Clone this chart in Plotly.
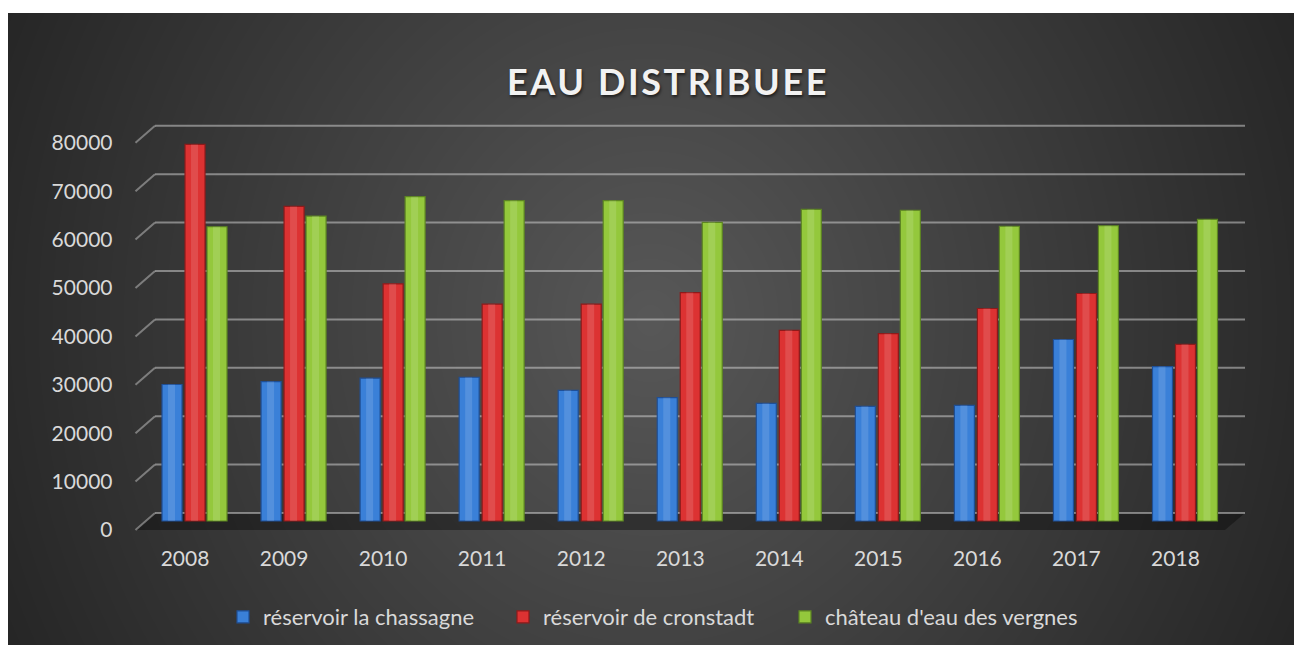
import base64, struct, zlib
import numpy as np
import plotly.graph_objects as go

# ---------------- data ----------------
years = ["2008", "2009", "2010", "2011", "2012", "2013", "2014", "2015", "2016", "2017", "2018"]
chassagne = [28200, 28800, 29500, 29700, 27000, 25500, 24300, 23700, 23900, 37500, 31900]
cronstadt = [77800, 65000, 49000, 44800, 44800, 47200, 39400, 38700, 43900, 47000, 36500]
vergnes = [60800, 63000, 67000, 66200, 66200, 61700, 64400, 64200, 60900, 61000, 62300]
series_names = ["réservoir la chassagne", "réservoir de cronstadt", "château d'eau des vergnes"]
series_colors = ["#3a80d8", "#dc3232", "#94c83c"]
series_edges = ["#1f4f96", "#8e1a1a", "#5c8422"]
y_ticks = [0, 10000, 20000, 30000, 40000, 50000, 60000, 70000, 80000]

W, H = 1294, 645

# ---------------- background gradient image ----------------
bx0, by0 = 8, 13
bw, bh = W - bx0, H - by0
yy, xx = np.mgrid[0:bh, 0:bw].astype(float)
cx, cy = 650 - bx0, 320 - by0
r = np.sqrt(((xx - cx) / 740.0) ** 2 + ((yy - cy) / 800.0) ** 2)
r = np.clip(r, 0, 1)
val = 88 - r * 52
img = np.repeat(np.clip(val, 0, 255).astype(np.uint8)[:, :, None], 3, axis=2)


def png_uri(arr):
    h, w, _ = arr.shape
    raw = b"".join(b"\x00" + arr[i].tobytes() for i in range(h))

    def chunk(t, d):
        c = struct.pack(">I", len(d)) + t + d
        return c + struct.pack(">I", zlib.crc32(t + d) & 0xFFFFFFFF)

    png = (b"\x89PNG\r\n\x1a\n"
           + chunk(b"IHDR", struct.pack(">IIBBBBB", w, h, 8, 2, 0, 0, 0))
           + chunk(b"IDAT", zlib.compress(raw, 9))
           + chunk(b"IEND", b""))
    return "data:image/png;base64," + base64.b64encode(png).decode()


# ---------------- geometry helpers ----------------
px = lambda p: p / W
py = lambda p: 1 - p / H

n = len(years)
front_left, front_right = 135.5, 1225.0
back_left, back_right = 155, 1245
ppc = (front_right - front_left) / n
dom_top, dom_bot = 110, 540
ppv = 48.4 / 10000.0          # pixels per unit
bar_zero = 521                # pixel of value 0 for bars
grid_zero = 513               # back wall
label_zero = 530              # front axis labels

bar_range = [-(dom_bot - bar_zero) / ppv, (bar_zero - dom_top) / ppv]
grid_shift = (bar_zero - grid_zero) / ppv
label_shift = (label_zero - bar_zero) / ppv
grid_range = [bar_range[0] - grid_shift, bar_range[1] - grid_shift]
label_range = [bar_range[0] + label_shift, bar_range[1] + label_shift]
depth_shift = (label_zero - grid_zero) / ppv

bar_w = 20 / ppc
bar_offsets = [-23 / ppc, 0.0, 22 / ppc]
legend_names = ["legend", "legend2", "legend3"]
legend_text_x = [261, 541, 823]

fig = go.Figure()
for name, vals, col, edge, off, lg in zip(series_names, [chassagne, cronstadt, vergnes],
                                          series_colors, series_edges, bar_offsets, legend_names):
    fig.add_trace(go.Bar(
        x=list(range(n)), y=vals, name=name, width=bar_w, offset=off,
        marker=dict(color=col, line=dict(color=edge, width=1.2)),
        xaxis="x", yaxis="y", legend=lg,
    ))
# cylinder highlight
for vals, off in zip([chassagne, cronstadt, vergnes], bar_offsets):
    fig.add_trace(go.Bar(
        x=list(range(n)), y=vals, width=7 / ppc, offset=off + 6 / ppc,
        marker=dict(color="rgba(255,255,255,0.13)", line=dict(width=0)),
        showlegend=False, hoverinfo="skip", xaxis="x", yaxis="y",
    ))

shapes = []
shapes.append(dict(type="path", xref="paper", yref="y3", layer="below",
                   path=f"M {px(front_left)} 0 L {px(back_left)} {depth_shift} L {px(back_right)} {depth_shift} L {px(front_right)} 0 Z",
                   fillcolor="rgba(0,0,0,0.35)", line=dict(width=0)))
for v in y_ticks:
    shapes.append(dict(type="line", xref="paper", yref="y2", layer="below",
                       x0=px(back_left), x1=px(back_right), y0=v, y1=v,
                       line=dict(color="rgba(215,215,215,0.5)", width=2)))
    shapes.append(dict(type="line", xref="paper", yref="y3", layer="below",
                       x0=px(front_left), x1=px(back_left), y0=v, y1=v + depth_shift,
                       line=dict(color="rgba(215,215,215,0.45)", width=2)))

tick_font = dict(family="Lato, 'Open Sans', sans-serif", size=21, color="#d9d9d9")
legend_font = dict(family="Lato, 'Open Sans', sans-serif", size=22, color="#d9d9d9")

legends = {}
for lg, tx in zip(legend_names, legend_text_x):
    legends[lg] = dict(orientation="h", x=px(tx - 38), xanchor="left", y=py(617), yanchor="middle",
                       font=legend_font, bgcolor="rgba(0,0,0,0)", itemwidth=30,
                       borderwidth=0)

fig.update_layout(
    width=W, height=H,
    margin=dict(l=0, r=0, t=0, b=0),
    paper_bgcolor="white",
    plot_bgcolor="rgba(0,0,0,0)",
    barmode="overlay",
    images=[dict(source=png_uri(img), xref="paper", yref="paper",
                 x=px(bx0), y=py(by0), sizex=bw / W, sizey=bh / H,
                 xanchor="left", yanchor="top", sizing="stretch", layer="below")],
    shapes=shapes,
    title=dict(text='<b><span style="letter-spacing:2.6px">EAU DISTRIBUEE</span></b>',
               x=px(668), xanchor="center", y=py(82), yanchor="middle",
               font=dict(family="Lato, 'Open Sans', sans-serif", size=36, color="#f2f2f2",
                         shadow="1px 2px 3px rgba(0,0,0,0.6)")),
    xaxis=dict(domain=[px(front_left), px(front_right)], range=[-0.5, n - 0.5],
               tickmode="array", tickvals=list(range(n)), ticktext=years,
               tickfont=tick_font, showgrid=False, zeroline=False, showline=False, ticks="",
               ticklabelstandoff=4, fixedrange=True),
    yaxis=dict(domain=[py(dom_bot), py(dom_top)], range=bar_range,
               showticklabels=False, showgrid=False, zeroline=False, showline=False),
    yaxis2=dict(overlaying="y", anchor="x", range=grid_range, showticklabels=False,
                showgrid=False, zeroline=False, showline=False),
    yaxis3=dict(overlaying="y", anchor="x", range=label_range, tickmode="array",
                tickvals=y_ticks, ticktext=[str(v) for v in y_ticks], tickfont=tick_font,
                showgrid=False, zeroline=False, showline=False, ticks="", ticklabelstandoff=22,
                side="left"),
    showlegend=True,
    **legends,
)

fig.write_html("out.html", config={"displayModeBar": False},
               post_script="document.body.style.margin='0';")
